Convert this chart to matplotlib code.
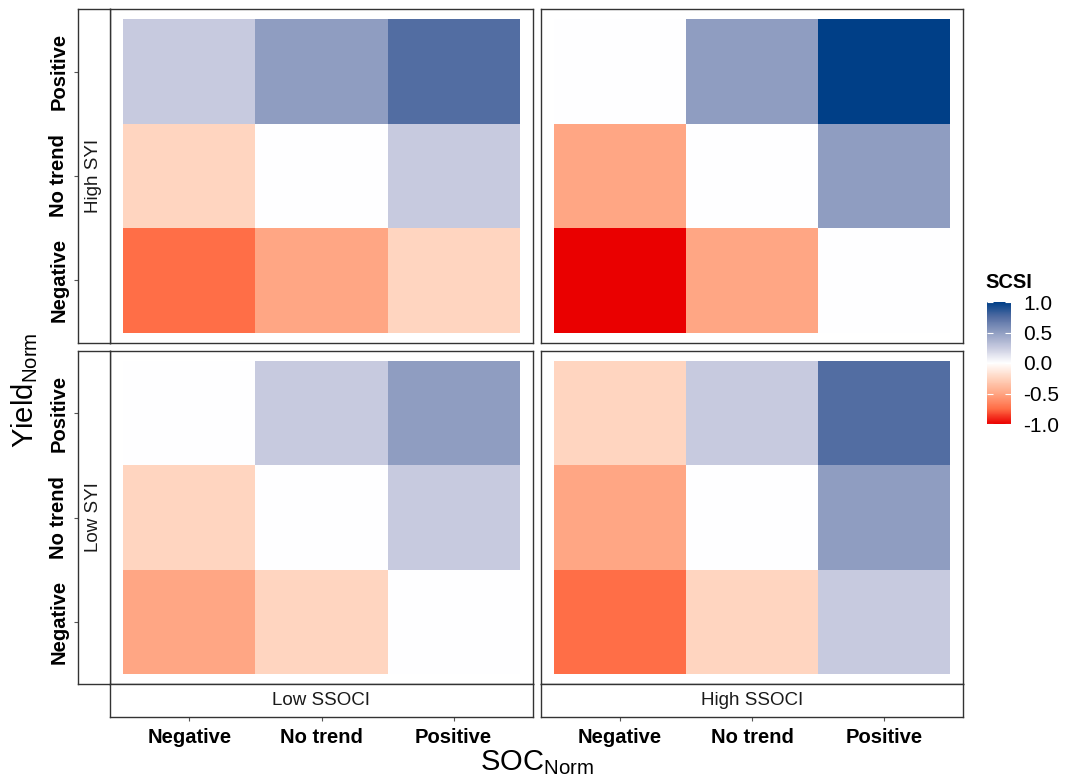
import numpy as np
import matplotlib
matplotlib.use("Agg")
import matplotlib.pyplot as plt
from matplotlib.colors import LinearSegmentedColormap, Normalize
from matplotlib.cm import ScalarMappable

plt.rcParams['font.family'] = ['Liberation Sans', 'DejaVu Sans']
plt.rcParams['mathtext.fontset'] = 'custom'
plt.rcParams['mathtext.rm'] = 'Liberation Sans'
plt.rcParams['mathtext.it'] = 'Liberation Sans'

# ---- data ----
soc_levels = ["Negative", "No trend", "Positive"]      # x categories
yield_levels = ["Negative", "No trend", "Positive"]    # y categories (bottom -> top)
syi_groups = ["High SYI", "Low SYI"]                   # facet rows
ssoci_groups = ["Low SSOCI", "High SSOCI"]             # facet cols

# SCSI values: rows = yield (Negative, No trend, Positive), cols = SOC (Negative, No trend, Positive)
scsi_high_syi_low_ssoci = [[-0.75, -0.50, -0.25],
                           [-0.25,  0.00,  0.25],
                           [ 0.25,  0.50,  0.75]]
scsi_high_syi_high_ssoci = [[-1.00, -0.50,  0.00],
                            [-0.50,  0.00,  0.50],
                            [ 0.00,  0.50,  1.00]]
scsi_low_syi_low_ssoci = [[-0.50, -0.25,  0.00],
                          [-0.25,  0.00,  0.25],
                          [ 0.00,  0.25,  0.50]]
scsi_low_syi_high_ssoci = [[-0.75, -0.25,  0.25],
                           [-0.50,  0.00,  0.50],
                           [-0.25,  0.25,  0.75]]

facet_values = {
    ("High SYI", "Low SSOCI"): scsi_high_syi_low_ssoci,
    ("High SYI", "High SSOCI"): scsi_high_syi_high_ssoci,
    ("Low SYI", "Low SSOCI"): scsi_low_syi_low_ssoci,
    ("Low SYI", "High SSOCI"): scsi_low_syi_high_ssoci,
}

# ---- colour scale ----
cmap = LinearSegmentedColormap.from_list(
    "scsi",
    [(0.000, "#EA0000"), (0.125, "#FF6E47"), (0.250, "#FFA684"), (0.375, "#FFD4BF"),
     (0.500, "#FFFFFF"), (0.625, "#C8CBE0"), (0.750, "#909EC2"), (0.875, "#546EA3"),
     (1.000, "#003F87")])
norm = Normalize(vmin=-1, vmax=1)

W, H = 1067, 781
fig = plt.figure(figsize=(W / 100, H / 100), dpi=100)

def fax(x0, y0, x1, y1):
    return fig.add_axes([x0 / W, 1 - y1 / H, (x1 - x0) / W, (y1 - y0) / H])

col_x = [(110, 533), (541, 963)]
row_y = [(9, 343), (351, 684)]
edge = "#333333"
lims = (0.4, 3.6)

for ri, syi in enumerate(syi_groups):
    for ci, ssoci in enumerate(ssoci_groups):
        x0, x1 = col_x[ci]
        y0, y1 = row_y[ri]
        ax = fax(x0, y0, x1, y1)
        vals = np.array(facet_values[(syi, ssoci)], dtype=float)
        ax.pcolormesh(np.arange(0.5, 4.0, 1.0), np.arange(0.5, 4.0, 1.0), vals,
                      cmap=cmap, norm=norm, shading="flat")
        ax.set_xlim(*lims)
        ax.set_ylim(*lims)
        ax.set_xticks([])
        ax.set_yticks([])
        for s in ax.spines.values():
            s.set_color(edge)
            s.set_linewidth(1.0)

    # left strip (with y axis ticks outside)
    y0, y1 = row_y[ri]
    sax = fax(78, y0, 110, y1)
    sax.set_xlim(0, 1)
    sax.set_ylim(*lims)
    sax.set_xticks([])
    sax.set_yticks([1, 2, 3])
    sax.set_yticklabels(yield_levels, rotation=90, va="center", fontsize=14.5,
                        fontweight="bold", color="black")
    sax.tick_params(axis="y", length=3, color="#555555", pad=4)
    for s in sax.spines.values():
        s.set_color(edge)
        s.set_linewidth(1.0)
    sax.text(0.5, 2.0, syi, rotation=90, ha="center", va="center", fontsize=13.5,
             color="#1A1A1A")

for ci, ssoci in enumerate(ssoci_groups):
    x0, x1 = col_x[ci]
    bax = fax(x0, 684, x1, 717)
    bax.set_ylim(0, 1)
    bax.set_xlim(*lims)
    bax.set_yticks([])
    bax.set_xticks([1, 2, 3])
    bax.set_xticklabels(soc_levels, fontsize=14.5, fontweight="bold", color="black")
    bax.tick_params(axis="x", length=3, color="#555555", pad=5)
    for s in bax.spines.values():
        s.set_color(edge)
        s.set_linewidth(1.0)
    bax.text(2.0, 0.5, ssoci, ha="center", va="center", fontsize=13.5, color="#1A1A1A")

# axis titles
fig.text(25 / W, 1 - 390 / H, r"$\mathrm{Yield}_{\mathrm{Norm}}$", rotation=90,
         ha="center", va="center", fontsize=21)
fig.text(537 / W, 1 - 763 / H, r"$\mathrm{SOC}_{\mathrm{Norm}}$",
         ha="center", va="center", fontsize=21)

# colour bar
cax = fax(987, 302, 1011, 424)
cb = fig.colorbar(ScalarMappable(norm=norm, cmap=cmap), cax=cax)
cb.outline.set_visible(False)
cb.set_ticks([-1.0, -0.5, 0.0, 0.5, 1.0])
cb.set_ticklabels(["-1.0", "-0.5", "0.0", "0.5", "1.0"])
cax.tick_params(axis="y", direction="in", length=4, color="white", left=True,
                right=True, labelsize=15, pad=9)
fig.text(985 / W, 1 - 283 / H, "SCSI", ha="left", va="center", fontsize=14.5,
         fontweight="bold")

fig.savefig("out.png", dpi=100)
